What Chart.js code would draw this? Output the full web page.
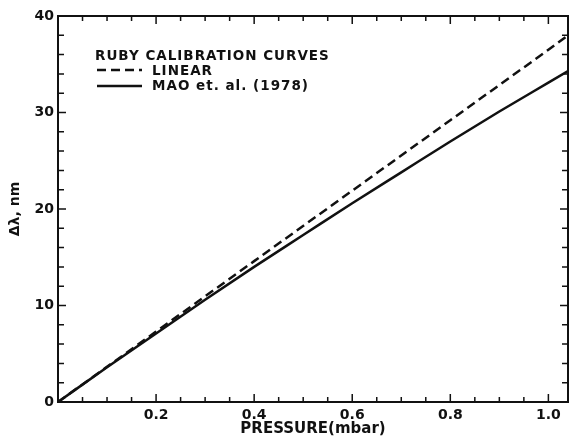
<!DOCTYPE html>
<html><head><meta charset="utf-8">
<script src="https://cdn.jsdelivr.net/npm/chart.js@4.4.0/dist/chart.umd.min.js"></script>
<style>html,body{margin:0;padding:0;background:#fff}</style>
</head><body>
<canvas id="c" width="569" height="438" style="display:block;width:569px;height:438px"></canvas>
<script>
// ---- data ----
const maoPressure = [0, 0.1, 0.2, 0.3, 0.4, 0.5, 0.6, 0.7, 0.8, 0.9, 1.0, 1.04];
const maoShift    = [0, 3.6, 7.1, 10.6, 14.0, 17.3, 20.6, 23.8, 27.0, 30.1, 33.1, 34.3];
const linearPressure = [0, 0.2, 0.4, 0.6, 0.8, 1.0, 1.04];
const linearShift    = [0, 7.3, 14.6, 21.9, 29.2, 36.5, 38.0];
const xMajorTicks = [0.2, 0.4, 0.6, 0.8, 1.0];
const xMinorTicks = [0.05, 0.1, 0.15, 0.25, 0.3, 0.35, 0.45, 0.5, 0.55, 0.65, 0.7, 0.75, 0.85, 0.9, 0.95];
const yMajorTicks = [10, 20, 30];
const yMinorTicks = [2, 4, 6, 8, 12, 14, 16, 18, 22, 24, 26, 28, 32, 34, 36, 38];
const legendTitle = 'RUBY CALIBRATION CURVES';
const legendLinear = 'LINEAR';
const legendMao = 'MAO et. al. (1978)';
const xTitle = 'PRESSURE(mbar)';
const yTitle = 'Δλ, nm';

const INK = '#111';
const FONT = 'DejaVu Sans';

const spacingPlugin = {
  id: 'spacing',
  beforeDraw(chart) { chart.ctx.letterSpacing = '0px'; }
};

const framePlugin = {
  id: 'frame',
  afterDraw(chart) {
    const {ctx, chartArea: a, scales: {x, y}} = chart;
    ctx.save();
    ctx.strokeStyle = INK;
    ctx.lineWidth = 2;
    ctx.strokeRect(a.left, a.top, a.right - a.left, a.bottom - a.top);
    ctx.lineWidth = 1.5;
    ctx.beginPath();
    const xt = (v, len) => {
      const px = x.getPixelForValue(v);
      ctx.moveTo(px, a.bottom); ctx.lineTo(px, a.bottom - len);
      ctx.moveTo(px, a.top); ctx.lineTo(px, a.top + len);
    };
    const yt = (v, len) => {
      const py = y.getPixelForValue(v);
      ctx.moveTo(a.left, py); ctx.lineTo(a.left + len, py);
      ctx.moveTo(a.right, py); ctx.lineTo(a.right - len, py);
    };
    xMajorTicks.forEach(v => xt(v, 8));
    xMinorTicks.forEach(v => xt(v, 5));
    yMajorTicks.forEach(v => yt(v, 8));
    yMinorTicks.forEach(v => yt(v, 6));
    ctx.stroke();

    // legend
    ctx.fillStyle = INK;
    ctx.font = 'bold 13.5px "' + FONT + '"';
    ctx.letterSpacing = '1px';
    ctx.textBaseline = 'middle';
    ctx.textAlign = 'left';
    ctx.fillText(legendTitle, 95, 56);
    ctx.fillText(legendLinear, 152, 71);
    ctx.fillText(legendMao, 152, 86);
    ctx.lineWidth = 2.5;
    ctx.setLineDash([9, 5]);
    ctx.beginPath(); ctx.moveTo(97, 70); ctx.lineTo(142, 70); ctx.stroke();
    ctx.setLineDash([]);
    ctx.beginPath(); ctx.moveTo(97, 86); ctx.lineTo(142, 86); ctx.stroke();
    ctx.restore();
  }
};

new Chart(document.getElementById('c'), {
  type: 'line',
  data: {
    datasets: [
      {
        label: legendLinear,
        data: linearPressure.map((p, i) => ({x: p, y: linearShift[i]})),
        borderColor: INK, borderWidth: 2.5, borderDash: [9, 5],
        pointRadius: 0, tension: 0, fill: false
      },
      {
        label: legendMao,
        data: maoPressure.map((p, i) => ({x: p, y: maoShift[i]})),
        borderColor: INK, borderWidth: 2.5,
        pointRadius: 0, cubicInterpolationMode: 'monotone', fill: false
      }
    ]
  },
  options: {
    responsive: false,
    animation: false,
    devicePixelRatio: 1,
    layout: {padding: {left: 0, right: 1, top: 16, bottom: 0}},
    plugins: {legend: {display: false}, tooltip: {enabled: false}},
    scales: {
      x: {
        type: 'linear', min: 0, max: 1.04,
        grid: {display: false, drawTicks: false}, border: {display: false},
        ticks: {
          stepSize: 0.2, includeBounds: false, padding: 5, color: INK,
          font: {family: FONT, size: 14, weight: 'bold'},
          maxRotation: 0, autoSkip: false,
          callback: v => (Math.abs(v) < 1e-9 ? '' : v.toFixed(1))
        },
        title: {display: true, text: xTitle, color: INK, font: {family: FONT, size: 15, weight: 'bold'}, padding: {top: 0, bottom: 0}},
        afterFit: s => { s.height = 36; }
      },
      y: {
        type: 'linear', min: 0, max: 40,
        grid: {display: false, drawTicks: false}, border: {display: false},
        ticks: {stepSize: 10, padding: 4, color: INK, font: {family: FONT, size: 14, weight: 'bold'}},
        title: {display: true, text: yTitle, color: INK, font: {family: FONT, size: 14, weight: 'bold'}, padding: {top: 7, bottom: 0}},
        afterFit: s => { s.width = 58; }
      }
    }
  },
  plugins: [spacingPlugin, framePlugin]
});
</script>
</body></html>
